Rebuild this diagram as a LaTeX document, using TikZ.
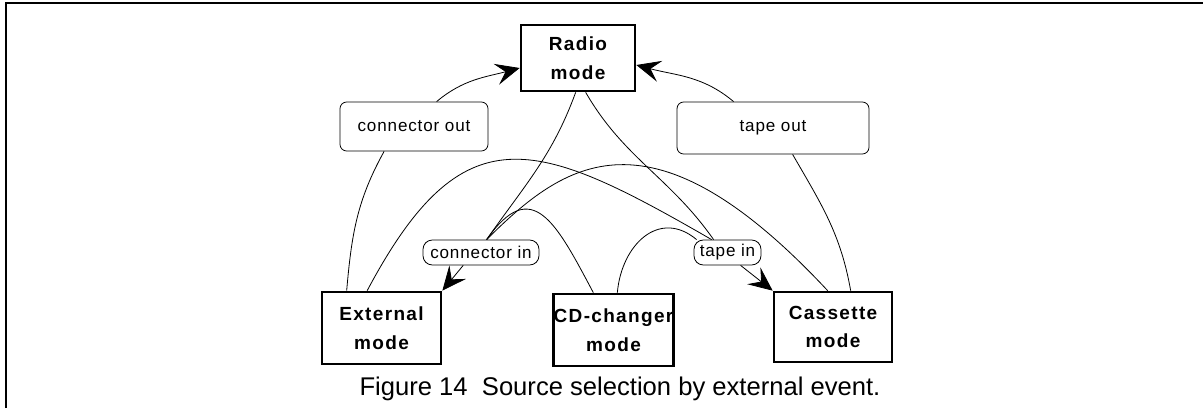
\documentclass[tikz,border=0pt]{standalone}
\usepackage{fontspec}
\setmainfont{Liberation Sans}
\newfontfamily\statefont{Liberation Sans}[LetterSpace=7]
\newfontfamily\eventfont{Liberation Sans}[LetterSpace=5]
\usetikzlibrary{arrows.meta,calc}

\begin{document}
\begin{tikzpicture}[x=0.75pt,y=0.75pt,line width=0.6pt,
    >={Stealth[length=18pt,width=16pt,inset=7pt]}]
    \tikzstyle{state}=[draw,line width=2pt,inner sep=0pt,align=center,
      font=\statefont\bfseries\fontsize{14.25pt}{21.5pt}\selectfont]
    \tikzstyle{event}=[draw,rounded corners=5pt,inner sep=0pt,
      font=\eventfont\fontsize{12.8pt}{15pt}\selectfont]
    \useasboundingbox (0,0) rectangle (1203,408);

    % frame
    \draw[line width=1.5pt] (6,0) -- (6,405) -- (1203,405);

    % modes
    \node[state,minimum width=85.5pt,minimum height=49.5pt] (radio) at (578,350) {Radio\\mode};
    \node[state,minimum width=89.25pt,minimum height=54pt] (ext) at (381.5,80) {External\\mode};
    \node[state,minimum width=89.25pt,minimum height=54pt] (cd) at (613.5,78) {CD-changer\\mode};
    \node[state,minimum width=88.5pt,minimum height=52.5pt] (cas) at (833,81) {Cassette\\mode};

    % events
    \node[event,minimum width=111pt,minimum height=36.75pt] (cout) at (414,281.5) {connector out};
    \node[event,minimum width=144pt,minimum height=39pt] (tout) at (773,280) {tape out};
    \node[event,minimum width=87pt,minimum height=18.75pt,rounded corners=7pt] (cin) at (481,155.5) {connector in};
    \node[event,minimum width=50.25pt,minimum height=18.75pt,rounded corners=7pt] (tin) at (727.5,155.5) {tape in};

    \node[anchor=base,font=\fontsize{19.2pt}{23pt}\selectfont] (caption) at (620,13) {Figure 14\ \ Source selection by external event.};

    % back to radio
    \draw ($(ext.north west)+(26,0)$) to[out=85,in=-119] ($(cout.south west)+(44.5,0)$);
    \draw[->] ($(cout.north west)+(97,0)$) to[out=40,in=195] ($(radio.west)+(0,-10)$);
    \draw ($(cas.north west)+(78,0)$) to[out=100,in=-60] ($(tout.south west)+(116,0)$);
    \draw[->] ($(tout.north west)+(57,0)$) to[out=140,in=-15] ($(radio.east)+(0,-7)$);

    % to external
    \draw ($(radio.south west)+(56,0)$) to[out=-110,in=55] ($(cin.north west)+(64,0)$);
    \draw ($(cas.north west)+(55,0)$) .. controls +(133:260) and +(45:110) .. ($(cin.north west)+(64,0)$);
    \draw ($(cd.north west)+(41,0)$) to[out=118,in=55,looseness=1.7] ($(cin.north west)+(64,0)$);
    \draw[->] ($(cin.south west)+(40.6,0)$) -- (ext.north east);

    % to cassette
    \draw ($(radio.south west)+(66,0)$) to[out=-60,in=125] ($(tin.north west)+(20,0)$);
    \draw ($(ext.north west)+(46.5,0)$) to[out=62,in=150,looseness=1.5] ($(tin.north west)+(18,0)$);
    \draw ($(cd.north west)+(65,0)$) to[out=85,in=140,looseness=1.3] ($(tin.north west)+(3,0)$);
    \draw[->] ($(tin.south west)+(47,0)$) -- (cas.north west);
\end{tikzpicture}
\end{document}
